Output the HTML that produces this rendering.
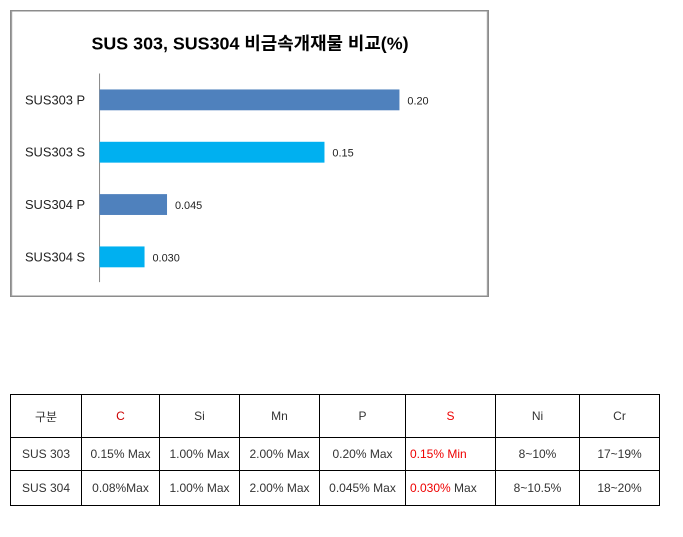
<!DOCTYPE html>
<html><head><meta charset="utf-8"><style>
body{margin:0;width:683px;height:537px;background:#fff;font-family:"Liberation Sans","Noto Sans CJK KR",sans-serif;position:relative;overflow:hidden}
#chart{position:absolute;left:10px;top:10px;width:479px;height:287px;border:1px solid #8c8c8c;box-sizing:border-box}
table{position:absolute;left:10px;top:394px;border-collapse:collapse;font-size:12px;color:#333}
td{border:1px solid #000;text-align:center;padding:0;font-family:"Liberation Sans","Noto Sans CJK KR",sans-serif}
.r{color:#e00}
</style></head><body>
<svg id="chart" width="479" height="287" viewBox="10 10 479 287" xmlns="http://www.w3.org/2000/svg">
<rect x="10" y="10" width="479" height="287" fill="#fff" stroke="#8c8c8c"/>
<text x="250" y="49" text-anchor="middle" font-size="18" font-weight="bold" fill="#000" font-family="Liberation Sans, Noto Sans CJK KR, sans-serif">SUS 303,  SUS304 비금속개재물 비교(%)</text>
<line x1="98.5" y1="73" x2="98.5" y2="283" stroke="#868686"/>
<g id="bars"></g>
</svg>
<script>
const categories=["SUS303  P","SUS303  S","SUS304  P","SUS304  S"];
const values=[0.20,0.15,0.045,0.030];
const valueLabels=["0.20","0.15","0.045","0.030"];
const colors=["#4f81bd","#00b0f0","#4f81bd","#00b0f0"];
const x0=98.5,scale=1510;
const xs=v=>x0+v*scale;
const ys=i=>89+i*52.7;
const g=document.getElementById('bars');
const ns="http://www.w3.org/2000/svg";
categories.forEach((c,i)=>{
 const r=document.createElementNS(ns,'rect');
 
 
 r.setAttribute('x',x0);r.setAttribute('y',ys(i));
 r.setAttribute('width',xs(values[i])-x0);r.setAttribute('height',21);
 r.setAttribute('fill',colors[i]);g.appendChild(r);
 const t=document.createElementNS(ns,'text');
 
 
 t.setAttribute('x',84);t.setAttribute('y',ys(i)+15);
 t.setAttribute('text-anchor','end');t.setAttribute('font-size','13');t.setAttribute('fill','#222');
 t.textContent=c;g.appendChild(t);
 const v=document.createElementNS(ns,'text');
 
 
 v.setAttribute('x',xs(values[i])+8);v.setAttribute('y',ys(i)+15);
 v.setAttribute('font-size','11');v.setAttribute('fill','#222');
 v.textContent=valueLabels[i];g.appendChild(v);
});
</script>
<table>
<tr style="height:43px"><td style="width:70px">구분</td><td style="width:77px" class="r"><span style="color:#c00">C</span></td><td style="width:79px">Si</td><td style="width:79px">Mn</td><td style="width:85px">P</td><td style="width:89px" class="r">S</td><td style="width:83px">Ni</td><td style="width:79px">Cr</td></tr>
<tr style="height:33px"><td>SUS 303</td><td>0.15% Max</td><td>1.00% Max</td><td>2.00% Max</td><td>0.20% Max</td><td style="text-align:left;padding-left:4px"><span class="r">0.15%</span> <span class="r">Min</span></td><td>8~10%</td><td>17~19%</td></tr>
<tr style="height:35px"><td>SUS 304</td><td>0.08%Max</td><td>1.00% Max</td><td>2.00% Max</td><td>0.045% Max</td><td style="text-align:left;padding-left:4px"><span class="r">0.030%</span> Max</td><td>8~10.5%</td><td>18~20%</td></tr>
</table>
</body></html>
